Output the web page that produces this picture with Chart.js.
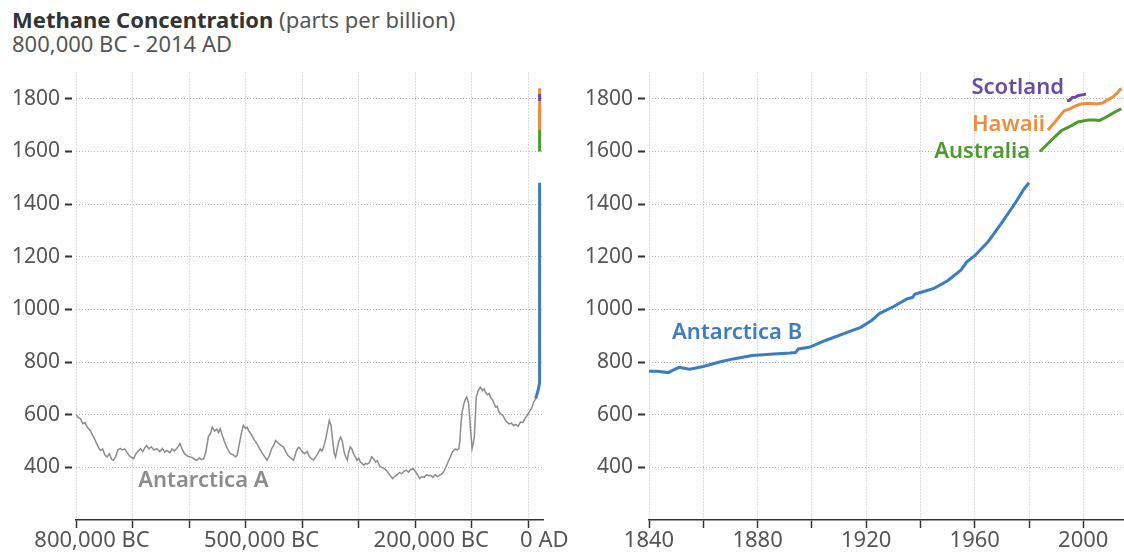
<!DOCTYPE html>
<html>
<head>
<meta charset="utf-8">
<script src="https://cdn.jsdelivr.net/npm/chart.js@4"></script>
<style>
  html, body { margin: 0; padding: 0; background: #fff; }
  body { width: 1124px; height: 555px; position: relative; overflow: hidden; font-family: "Noto Sans", sans-serif; }
  #title { position: absolute; left: 12px; top: 7px; font-size: 22px; line-height: 24px; color: #555; white-space: nowrap; }
  #title b { color: #333; font-weight: 700; }
  .box { position: absolute; top: 0; height: 555px; }
  #leftBox { left: 0; width: 580px; }
  #rightBox { left: 580px; width: 544px; }
</style>
</head>
<body>
<div id="title"><b>Methane Concentration</b> (parts per billion)<br>800,000 BC - 2014 AD</div>
<div class="box" id="leftBox"><canvas id="leftChart"></canvas></div>
<div class="box" id="rightBox"><canvas id="rightChart"></canvas></div>
<script>
// tick labels
const Y_TICKS = [400, 600, 800, 1000, 1200, 1400, 1600, 1800];
const LEFT_X_TICKS = [-800000, -700000, -600000, -500000, -400000, -300000, -200000, -100000, 0];
const LEFT_X_LABELS = ['800,000 BC', '', '', '500,000 BC', '', '', '200,000 BC', '', '0 AD'];
const RIGHT_X_TICKS = [1840, 1860, 1880, 1900, 1920, 1940, 1960, 1980, 2000];
const RIGHT_X_LABELS = ['1840', '', '1880', '', '1920', '', '1960', '', '2000'];

// Antarctica A (ice core, years relative to 0 AD)
const antAYears = [
  -800000, -796000, -792000, -788000, -784000, -780000, -775000, -770000, -765000, -760000,
  -757000, -753000, -749000, -745000, -741000, -737000, -734000, -730000, -726000, -722000,
  -718000, -714000, -710000, -706000, -702000, -698000, -694000, -690000, -686000, -682000,
  -678000, -675000, -671000, -667000, -662000, -657000, -652000, -647000, -643000, -639000,
  -634000, -630000, -626000, -620000, -616000, -612000, -608000, -604000, -600000, -595000,
  -590000, -586000, -582000, -578000, -574000, -570000, -566000, -562000, -559000, -555000,
  -551000, -548000, -545000, -541000, -536000, -532000, -527000, -522000, -518000, -515000,
  -511000, -507000, -504000, -500000, -497000, -495000, -490000, -485000, -480000, -475000,
  -470000, -466000, -462000, -458000, -454000, -450000, -447000, -444000, -440000, -436000,
  -433000, -429000, -425000, -420000, -415000, -412000, -409000, -406000, -403000, -399000,
  -395000, -391000, -387000, -383000, -380000, -376000, -372000, -368000, -365000, -362000,
  -358000, -355000, -352000, -349000, -346000, -343000, -341000, -338000, -335000, -332000,
  -329000, -326000, -323000, -320000, -318000, -315000, -312000, -309000, -306000, -303000,
  -300000, -297000, -294000, -291000, -288000, -285000, -281000, -277000, -273000, -270000,
  -267000, -263000, -259000, -255000, -251000, -248000, -244000, -240000, -236000, -232000,
  -228000, -224000, -220000, -216000, -212000, -208000, -204000, -200000, -196000, -192000,
  -188000, -184000, -180000, -176000, -173000, -169000, -165000, -161000, -157000, -153000,
  -150000, -147000, -144000, -141000, -138000, -135000, -132000, -129000, -126000, -123000,
  -121000, -119000, -117000, -114000, -111000, -109000, -107000, -105500, -104000, -102500,
  -100500, -99500, -97500, -95500, -93500, -92000, -89000, -85000, -81000, -78000,
  -76000, -72000, -69000, -67000, -63000, -60000, -58000, -55000, -52000, -49000,
  -45000, -41000, -38000, -34000, -30000, -26000, -22000, -18000, -14000, -10000,
  -6000, -2000, 2000, 6000, 9500, 13000, 15500
];
const antAValues = [
  600, 590, 585, 566, 570, 552, 540, 520, 498, 475,
  464, 470, 448, 439, 452, 430, 427, 440, 466, 472,
  466, 470, 458, 445, 438, 433, 452, 462, 471, 460,
  475, 483, 470, 478, 466, 471, 460, 472, 458, 464,
  455, 470, 462, 476, 490, 468, 452, 445, 440, 438,
  430, 427, 436, 429, 433, 462, 515, 530, 553, 538,
  545, 532, 547, 520, 490, 470, 452, 448, 440, 445,
  490, 535, 559, 548, 552, 540, 525, 505, 490, 470,
  452, 440, 427, 445, 470, 485, 502, 496, 488, 482,
  477, 460, 445, 435, 427, 450, 468, 477, 470, 458,
  452, 460, 440, 432, 427, 440, 452, 470, 462, 477,
  510, 545, 578, 560, 500, 450, 439, 470, 500, 515,
  500, 460, 440, 427, 455, 477, 470, 450, 440, 427,
  435, 420, 415, 408, 415, 412, 418, 440, 430, 420,
  425, 405, 400, 395, 389, 380, 368, 357, 366, 372,
  380, 376, 385, 389, 382, 392, 395, 385, 372, 357,
  365, 362, 372, 368, 370, 362, 372, 365, 370, 375,
  382, 395, 410, 425, 439, 455, 464, 470, 466, 471,
  500, 570, 610, 641, 660, 667, 655, 641, 600, 553,
  500, 471, 490, 515, 600, 667, 690, 705, 692, 698,
  686, 676, 680, 667, 655, 640, 629, 632, 612, 603,
  598, 580, 572, 565, 568, 559, 563, 556, 572, 570,
  585, 597, 612, 625, 648, 660, 673
];

// Antarctica B (1840-1980)
const antBYears = [1840, 1843, 1847, 1851, 1855, 1860, 1866, 1871, 1878, 1886, 1892, 1894, 1895, 1899,
  1905, 1913, 1918, 1922, 1925, 1930, 1935, 1937, 1938, 1940, 1945, 1950, 1955, 1957, 1960, 1965,
  1970, 1975, 1978, 1980];
const antBValues = [765, 765, 760, 780, 773, 783, 800, 812, 825, 831, 834, 836, 850, 856,
  882, 913, 932, 958, 985, 1010, 1040, 1045, 1058, 1064, 1080, 1109, 1150, 1180, 1204, 1258,
  1330, 1405, 1455, 1481];

// Australia
const ausYears = [1984, 1986, 1988, 1990, 1992, 1994, 1996, 1998, 2000, 2002, 2004, 2006, 2008, 2010, 2012, 2014];
const ausValues = [1600, 1620, 1640, 1660, 1680, 1690, 1700, 1712, 1716, 1720, 1720, 1718, 1728, 1740, 1752, 1762];

// Hawaii
const hawYears = [1987, 1989, 1991, 1993, 1995, 1997, 1999, 2001, 2003, 2005, 2007, 2009, 2011, 2013, 2014];
const hawValues = [1682, 1705, 1730, 1755, 1762, 1772, 1780, 1782, 1782, 1780, 1784, 1796, 1808, 1828, 1840];

// Scotland
const scoYears = [1994, 1995, 1996, 1997, 1998, 1999, 2000, 2001];
const scoValues = [1792, 1795, 1805, 1806, 1812, 1814, 1816, 1818];

// where the modern records sit on the long time axis
const RECENT_X = 20000;

const FONT = '"Noto Sans", sans-serif';
const COLORS = {
  grid: '#b8b8b8',
  axis: '#333',
  text: '#555',
  antA: '#8c8c8c',
  antB: '#3b7dbf',
  aus: '#4f9a2f',
  haw: '#f28c3c',
  sco: '#6a4c9e'
};

const pairs = (xs, ys) => xs.map((x, i) => ({ x: x, y: ys[i] }));
const stacked = (ys) => ys.map(v => ({ x: RECENT_X, y: v }));

// order: lower numbers are drawn on top
function lineSet(label, data, color, width, order) {
  return {
    label: label,
    data: data,
    borderColor: color,
    backgroundColor: color,
    borderWidth: width,
    pointRadius: 0,
    tension: 0,
    fill: false,
    order: order
  };
}

function labelPlugin(items) {
  return {
    id: 'seriesLabels',
    afterDatasetsDraw(chart) {
      const { ctx, scales: { x, y } } = chart;
      ctx.save();
      ctx.font = '600 22px ' + FONT;
      ctx.textBaseline = 'middle';
      items.forEach(it => {
        ctx.textAlign = it.align;
        ctx.fillStyle = it.color;
        ctx.fillText(it.text, x.getPixelForValue(it.x), y.getPixelForValue(it.y));
      });
      ctx.restore();
    }
  };
}

function yAxis(width) {
  return {
    type: 'linear',
    min: 200,
    max: 1900,
    afterBuildTicks: s => { s.ticks = Y_TICKS.map(v => ({ value: v })); },
    afterFit: s => { s.width = width; },
    border: { display: false, dash: [1, 2] },
    grid: {
      color: COLORS.grid,
      lineWidth: 1,
      tickLength: 11,
      tickColor: '#333',
      tickWidth: 2,
      tickBorderDash: [7, 50]
    },
    ticks: {
      color: COLORS.text,
      font: { family: FONT, size: 21 },
      padding: 5,
      callback: v => String(v)
    }
  };
}

function xAxis(min, max, tickVals, tickLabels, offset) {
  return {
    type: 'linear',
    min: min,
    max: max,
    afterBuildTicks: s => { s.ticks = tickVals.map(v => ({ value: v })); },
    afterFit: s => { s.height = 35; },
    border: { display: true, color: COLORS.axis, width: 1.5, dash: [1, 2] },
    grid: {
      color: COLORS.grid,
      lineWidth: 1,
      tickLength: 8,
      tickColor: COLORS.axis,
      tickWidth: 1.5,
      tickBorderDash: []
    },
    ticks: {
      color: COLORS.text,
      font: { family: FONT, size: 22 },
      padding: 0,
      labelOffset: offset,
      maxRotation: 0,
      autoSkip: false,
      callback: (v, i) => tickLabels[i]
    }
  };
}

function baseOptions(padRight) {
  return {
    responsive: true,
    maintainAspectRatio: false,
    animation: false,
    layout: { padding: { top: 72.5, right: padRight, left: 0, bottom: 0 } },
    plugins: { legend: { display: false }, tooltip: { enabled: false } }
  };
}

// long record
const leftOpts = baseOptions(37);
leftOpts.scales = {
  x: xAxis(-800000, 26000, LEFT_X_TICKS, LEFT_X_LABELS, 16),
  y: yAxis(76)
};
new Chart(document.getElementById('leftChart'), {
  type: 'line',
  data: {
    datasets: [
      lineSet('Antarctica A', pairs(antAYears, antAValues), COLORS.antA, 1.5, 4),
      lineSet('Antarctica B', [{ x: 13000, y: 662 }, { x: 17000, y: 690 }, { x: RECENT_X, y: 720 }].concat(stacked(antBValues)), COLORS.antB, 3, 3),
      lineSet('Australia', stacked(ausValues), COLORS.aus, 3, 2),
      lineSet('Hawaii', stacked(hawValues), COLORS.haw, 3, 1),
      lineSet('Scotland', stacked(scoValues), COLORS.sco, 3, 0)
    ]
  },
  options: leftOpts,
  plugins: [labelPlugin([
    { text: 'Antarctica A', x: -690000, y: 348, color: COLORS.antA, align: 'left' }
  ])]
});

// recent record
const rightOpts = baseOptions(0);
rightOpts.scales = {
  x: xAxis(1840, 2015, RIGHT_X_TICKS, RIGHT_X_LABELS, 0),
  y: yAxis(69)
};
new Chart(document.getElementById('rightChart'), {
  type: 'line',
  data: {
    datasets: [
      lineSet('Antarctica B', pairs(antBYears, antBValues), COLORS.antB, 3, 3),
      lineSet('Australia', pairs(ausYears, ausValues), COLORS.aus, 3, 2),
      lineSet('Hawaii', pairs(hawYears, hawValues), COLORS.haw, 3, 1),
      lineSet('Scotland', pairs(scoYears, scoValues), COLORS.sco, 3, 0)
    ]
  },
  options: rightOpts,
  plugins: [labelPlugin([
    { text: 'Antarctica B', x: 1848.5, y: 910, color: COLORS.antB, align: 'left' },
    { text: 'Scotland', x: 1992.9, y: 1841, color: COLORS.sco, align: 'right' },
    { text: 'Hawaii', x: 1985.9, y: 1701, color: COLORS.haw, align: 'right' },
    { text: 'Australia', x: 1980.4, y: 1598, color: COLORS.aus, align: 'right' }
  ])]
});
</script>
</body>
</html>
